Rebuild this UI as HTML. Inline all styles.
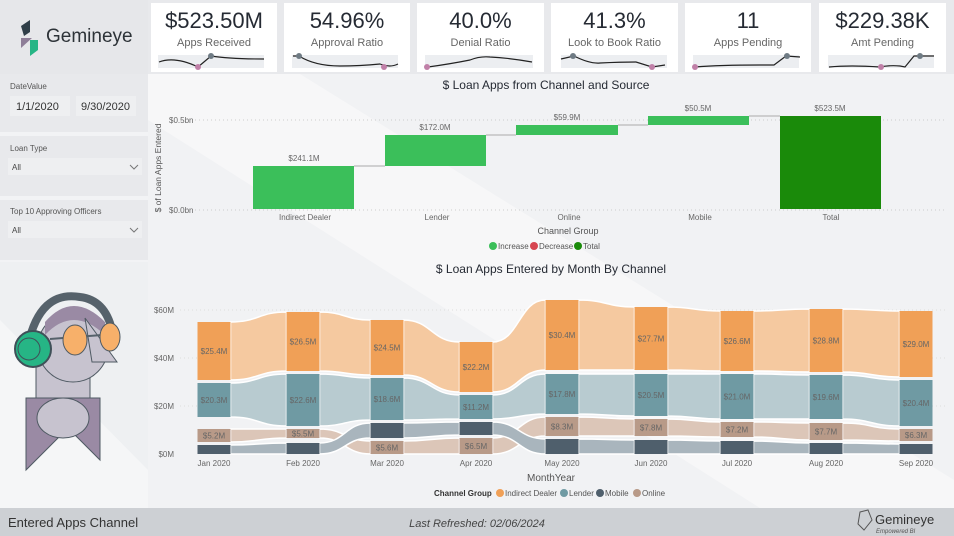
<!DOCTYPE html>
<html><head><meta charset="utf-8"><style>
html,body{margin:0;padding:0}
body{width:954px;height:536px;overflow:hidden;background:#e8e9ec;font-family:"Liberation Sans",sans-serif;position:relative}
.card{position:absolute;top:3px;height:69px;background:#fff}
.kv{position:absolute;top:5px;width:100%;text-align:center;font-size:22px;color:#252a33}
.kl{position:absolute;top:34px;width:100%;text-align:center;font-size:11px;color:#666}
svg text{font-family:"Liberation Sans",sans-serif}
</style></head><body>
<svg width="954" height="536" style="position:absolute;left:0;top:0">
<defs></defs>
<!-- panels -->
<rect x="0" y="0" width="148" height="74" fill="#e6e7ea"/>
<rect x="148" y="74" width="806" height="434" fill="#f1f2f4"/>
<polygon points="148,74 300,74 954,480 954,508 760,508 148,120" fill="#f7f7f8"/>
<rect x="0" y="76" width="148" height="330" fill="#f2f3f5"/>
<rect x="0" y="76" width="148" height="56" fill="#e8e9ec"/>
<rect x="0" y="136" width="148" height="60" fill="#e8e9ec"/>
<rect x="0" y="200" width="148" height="60" fill="#e8e9ec"/>
<rect x="0" y="262" width="148" height="246" fill="#eef0f2"/>
<polygon points="0,320 148,470 148,508 0,508" fill="#f5f6f7"/>
<rect x="0" y="508" width="954" height="28" fill="#cdd0d4"/>
<!-- logo -->
<polygon points="21,26 30,20 30,32 24,36" fill="#2f3e48"/>
<polygon points="21,38 32,38 21,48" fill="#8e7e98"/>
<polygon points="30,40 38,40 38,50 30,56" fill="#26b585"/>
<text x="46" y="42" font-size="19" fill="#2d3338">Gemineye</text>
<text x="10" y="89" font-size="8" fill="#555">DateValue</text>
<rect x="10" y="96" width="60" height="20" fill="#eeeff1"/><text x="16" y="110" font-size="11" fill="#333">1/1/2020</text>
<rect x="76" y="96" width="60" height="20" fill="#eeeff1"/><text x="81" y="110" font-size="11" fill="#333">9/30/2020</text>
<text x="10" y="151" font-size="8" fill="#555">Loan Type</text>
<rect x="8" y="158" width="134" height="17" fill="#eeeff1"/><text x="12" y="170" font-size="8" fill="#444">All</text>
<polyline points="130,165 134,169 138,165" fill="none" stroke="#777"/>
<text x="10" y="214" font-size="8" fill="#555">Top 10 Approving Officers</text>
<rect x="8" y="221" width="134" height="17" fill="#eeeff1"/><text x="12" y="233" font-size="8" fill="#444">All</text>
<polyline points="130,228 134,232 138,228" fill="none" stroke="#777"/>
<!-- character -->
<rect x="36" y="360" width="54" height="50" fill="#c7c3cf" stroke="#4f5a63"/>
<polygon points="26,398 100,398 100,460 68,428 26,470" fill="#9a8aa4" stroke="#4f5a63"/>
<ellipse cx="63" cy="418" rx="26" ry="20" fill="#c7c3cf" stroke="#4f5a63"/>
<circle cx="73" cy="347" r="35" fill="#c7c3cf" stroke="#4f5a63"/>
<path d="M45,322 Q73,290 105,322 L105,335 Q73,305 45,335Z" fill="#9a8aa4"/>
<path d="M28,345 Q40,290 80,297 Q105,300 112,330" fill="none" stroke="#56626b" stroke-width="8"/>
<polygon points="85,318 117,362 92,362" fill="#c7c3cf" stroke="#4f5a63"/>
<circle cx="33" cy="349" r="18" fill="#26b585" stroke="#3f5058" stroke-width="2"/>
<circle cx="29" cy="349" r="11" fill="#26b585" stroke="#3f5058"/>
<line x1="50" y1="339" x2="102" y2="335" stroke="#56626b" stroke-width="2"/>
<ellipse cx="75" cy="340" rx="12" ry="15" fill="#f7b06a" stroke="#4f5a63"/>
<ellipse cx="110" cy="337" rx="10" ry="14" fill="#f7b06a" stroke="#4f5a63"/>
<!-- waterfall -->
<text x="546" y="89" font-size="12" fill="#252a33" text-anchor="middle">$ Loan Apps from Channel and Source</text>
<text transform="translate(161,168) rotate(-90)" font-size="8.5" fill="#555" text-anchor="middle">$ of Loan Apps Entered</text>
<text x="169" y="123" font-size="8" fill="#666">$0.5bn</text>
<text x="169" y="213" font-size="8" fill="#666">$0.0bn</text>
<line x1="195" y1="120" x2="945" y2="120" stroke="#ccc" stroke-dasharray="1,3"/>
<line x1="195" y1="210" x2="945" y2="210" stroke="#ccc" stroke-dasharray="1,3"/>
<g stroke="#aaa"><line x1="354" y1="166" x2="385" y2="166"/><line x1="486" y1="135" x2="516" y2="135"/><line x1="618" y1="125" x2="648" y2="125"/><line x1="749" y1="116" x2="780" y2="116"/></g>
<rect x="253" y="166" width="101" height="43" fill="#3bbf5a"/>
<rect x="385" y="135" width="101" height="31" fill="#3bbf5a"/>
<rect x="516" y="125" width="102" height="10" fill="#3bbf5a"/>
<rect x="648" y="116" width="101" height="9" fill="#3bbf5a"/>
<rect x="780" y="116" width="101" height="93" fill="#1a8a0a"/>
<g font-size="8" fill="#666" text-anchor="middle">
<text x="304" y="161">$241.1M</text><text x="435" y="130">$172.0M</text><text x="567" y="120">$59.9M</text><text x="698" y="111">$50.5M</text><text x="830" y="111">$523.5M</text>
<text x="305" y="220">Indirect Dealer</text><text x="437" y="220">Lender</text><text x="569" y="220">Online</text><text x="700" y="220">Mobile</text><text x="831" y="220">Total</text>
</g>
<text x="568" y="234" font-size="9" fill="#555" text-anchor="middle">Channel Group</text>
<g font-size="8" fill="#555"><circle cx="493" cy="246" r="4" fill="#3bbf5a"/><text x="498" y="249">Increase</text>
<circle cx="534" cy="246" r="4" fill="#d64550"/><text x="539" y="249">Decrease</text>
<circle cx="578" cy="246" r="4" fill="#1a8a0a"/><text x="583" y="249">Total</text></g>
<!-- ribbon -->
<text x="551" y="273" font-size="12" fill="#252a33" text-anchor="middle">$ Loan Apps Entered by Month By Channel</text>
<g font-size="8" fill="#666" text-anchor="end">
<text x="174" y="313">$60M</text><text x="174" y="361">$40M</text><text x="174" y="409">$20M</text><text x="174" y="457">$0M</text></g>
<g stroke="#ddd" stroke-dasharray="1,3"><line x1="180" y1="310" x2="945" y2="310"/><line x1="180" y1="358" x2="945" y2="358"/><line x1="180" y1="406" x2="945" y2="406"/></g>
<g id="rib"></g>
<g font-size="8" fill="#666" text-anchor="middle" id="mlab"></g>
<text x="551" y="481" font-size="10" fill="#555" text-anchor="middle">MonthYear</text>
<g font-size="8" fill="#555"><text x="434" y="496" font-weight="bold" fill="#333">Channel Group</text>
<circle cx="500" cy="493" r="4" fill="#f0a057"/><text x="505" y="496">Indirect Dealer</text>
<circle cx="564" cy="493" r="4" fill="#6f9aa3"/><text x="569" y="496">Lender</text>
<circle cx="600" cy="493" r="4" fill="#4f5f6c"/><text x="605" y="496">Mobile</text>
<circle cx="637" cy="493" r="4" fill="#b89a88"/><text x="642" y="496">Online</text></g>
<!-- footer -->
<text x="8" y="527" font-size="13" fill="#333">Entered Apps Channel</text>
<text x="477" y="527" font-size="11" fill="#444" font-style="italic" text-anchor="middle">Last Refreshed: 02/06/2024</text>
<polygon points="860,512 868,510 872,520 864,530 858,524" fill="none" stroke="#555"/>
<text x="875" y="524" font-size="13" fill="#333">Gemineye</text>
<text x="876" y="533" font-size="6" fill="#555" font-style="italic">Empowered BI</text>
</svg>
<div class="card" style="left:151px;width:126px"><div class="kv">$523.50M</div><div class="kl">Apps Received</div></div>
<div class="card" style="left:284px;width:126px"><div class="kv">54.96%</div><div class="kl">Approval Ratio</div></div>
<div class="card" style="left:417px;width:127px"><div class="kv">40.0%</div><div class="kl">Denial Ratio</div></div>
<div class="card" style="left:551px;width:127px"><div class="kv">41.3%</div><div class="kl">Look to Book Ratio</div></div>
<div class="card" style="left:685px;width:126px"><div class="kv">11</div><div class="kl">Apps Pending</div></div>
<div class="card" style="left:819px;width:127px"><div class="kv">$229.38K</div><div class="kl">Amt Pending</div></div>
<svg width="954" height="80" style="position:absolute;left:0;top:0">
<g fill="#eceef1"><rect x="158" y="55" width="106" height="13"/><rect x="292" y="55" width="106" height="13"/><rect x="425" y="55" width="108" height="13"/><rect x="561" y="55" width="106" height="13"/><rect x="693" y="55" width="106" height="13"/><rect x="828" y="55" width="106" height="13"/></g>
<g fill="none" stroke="#222" stroke-width="1.2">
<path d="M159,62 Q175,56 198,67 L211,56 Q230,59 264,59"/>
<path d="M293,56 L299,56 Q315,66 340,66 Q360,66 380,64 Q390,68 398,64"/>
<path d="M428,67 Q450,64 470,60 Q480,56 490,57 Q510,58 532,62"/>
<path d="M561,59 L574,56 Q590,64 600,63 Q620,62 636,62 L652,67 L665,65"/>
<path d="M695,67 Q720,65 760,65 L774,65 L786,56 L800,57"/>
<path d="M829,67 Q850,65 880,67 Q890,65 900,66 L905,67 L914,56 L934,56"/>
</g>
<g><circle cx="198" cy="67" r="3" fill="#c080a8"/><circle cx="211" cy="56" r="3" fill="#6f7b84"/>
<circle cx="299" cy="56" r="3" fill="#6f7b84"/><circle cx="384" cy="67" r="3" fill="#c080a8"/>
<circle cx="427" cy="67" r="3" fill="#c080a8"/><circle cx="573" cy="56" r="3" fill="#6f7b84"/><circle cx="652" cy="67" r="3" fill="#c080a8"/>
<circle cx="695" cy="67" r="3" fill="#c080a8"/><circle cx="787" cy="56" r="3" fill="#6f7b84"/>
<circle cx="881" cy="67" r="3" fill="#c080a8"/><circle cx="920" cy="56" r="3" fill="#6f7b84"/></g>
</svg>
<script>
var xs=[214,303,387,476,562,651,737,826,916],w=33,h=16.5;
var S=[
{f:"#f5c9a0",b:"#f0a057",d:[[322,380],[312,371],[320,375],[342,392],[300,370],[307,370],[311,371],[309,372],[311,377]],l:["$25.4M","$26.5M","$24.5M","$22.2M","$30.4M","$27.7M","$26.6M","$28.8M","$29.0M"]},
{f:"#b8cbd0",b:"#6f9aa3",d:[[383,417],[374,426],[378,420],[395,419],[374,414],[374,416],[374,419],[375,419],[380,426]],l:["$20.3M","$22.6M","$18.6M","$11.2M","$17.8M","$20.5M","$21.0M","$19.6M","$20.4M"]},
{f:"#dcc6b8",b:"#b89a88",d:[[429,442],[429,438],[441,454],[438,454],[417,436],[419,436],[422,437],[423,440],[429,441]],l:["$5.2M","$5.5M","$5.6M","$6.5M","$8.3M","$7.8M","$7.2M","$7.7M","$6.3M"]},
{f:"#a9b5bd",b:"#4f5f6c",d:[[445,454],[443,454],[423,438],[422,435],[439,454],[440,454],[441,454],[443,454],[444,454]],l:["","","","","","","","",""]}];
var g="",t="";
S.forEach(function(s){for(var i=0;i<8;i++){var a=xs[i]+h,b=xs[i+1]-h,m=(a+b)/2,p=s.d[i],q=s.d[i+1];
g+='<path d="M'+a+','+p[0]+' C'+m+','+p[0]+' '+m+','+q[0]+' '+b+','+q[0]+' L'+b+','+q[1]+' C'+m+','+q[1]+' '+m+','+p[1]+' '+a+','+p[1]+'Z" fill="'+s.f+'" stroke="#fff" stroke-width="1.5"/>';}});
S.forEach(function(s){for(var i=0;i<9;i++){var p=s.d[i];g+='<rect x="'+(xs[i]-h)+'" y="'+p[0]+'" width="'+w+'" height="'+(p[1]-p[0])+'" fill="'+s.b+'"/>';
if(s.l[i])t+='<text x="'+xs[i]+'" y="'+((p[0]+p[1])/2+3)+'">'+s.l[i]+'</text>';}});
var mn=["Jan 2020","Feb 2020","Mar 2020","Apr 2020","May 2020","Jun 2020","Jul 2020","Aug 2020","Sep 2020"];
mn.forEach(function(n,i){t+='<text x="'+xs[i]+'" y="466">'+n+'</text>';});
document.getElementById("rib").innerHTML=g;document.getElementById("mlab").innerHTML=t;
</script>
</body></html>
